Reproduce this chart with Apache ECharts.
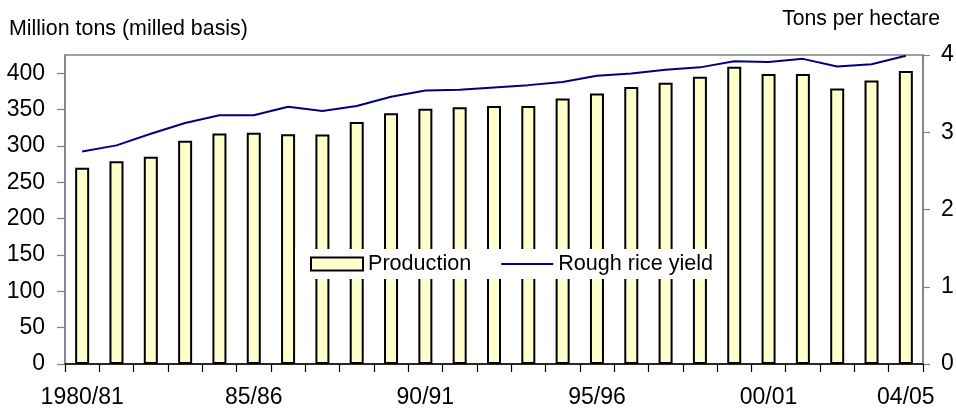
<!DOCTYPE html>
<html><head><meta charset="utf-8">
<script src="https://cdn.jsdelivr.net/npm/echarts@6/dist/echarts.min.js"></script>
<style>html,body{margin:0;padding:0;background:#fff}#c{width:956px;height:408px}</style>
</head><body><div id="c"></div>
<script>
const categories = ["1980/81","81/82","82/83","83/84","84/85","85/86","86/87","87/88","88/89","89/90","90/91","91/92","92/93","93/94","94/95","95/96","96/97","97/98","98/99","99/00","00/01","01/02","02/03","03/04","04/05"];
const shownLabels = ["1980/81","85/86","90/91","95/96","00/01","04/05"];
const production = [270, 279, 285, 307, 317, 318, 316, 315.5, 333, 345, 351, 353, 355, 355, 365, 372, 381, 387, 395, 409, 399, 399, 379, 390, 403];
const yieldTpH = [2.75, 2.83, 2.98, 3.12, 3.22, 3.22, 3.33, 3.275, 3.34, 3.46, 3.54, 3.55, 3.58, 3.61, 3.65, 3.73, 3.76, 3.81, 3.84, 3.92, 3.91, 3.95, 3.85, 3.88, 3.99];
const leftTitle = "Million tons (milled basis)";
const rightTitle = "Tons per hectare";

const FONT = "'Liberation Sans', Arial, sans-serif";
const chart = echarts.init(document.getElementById('c'), null, {renderer: 'canvas'});
chart.setOption({
  animation: false,
  backgroundColor: '#fff',
  textStyle: {fontFamily: FONT},
  grid: {left: 65, right: 33, top: 55, bottom: 44, containLabel: false, outerBoundsMode: 'none',
         show: true, borderColor: '#808080', borderWidth: 1.5, backgroundColor: 'transparent'},
  graphic: [
    {type: 'text', left: 9, top: 19, style: {text: leftTitle, font: "21.4px " + FONT, fill: '#000'}},
    {type: 'text', right: 16, top: 9, style: {text: rightTitle, font: "21.2px " + FONT, fill: '#000'}}
  ],
  legend: {
    left: 295, top: 249,
    backgroundColor: '#fff',
    padding: [4, 3, 4, 15],
    itemGap: 29,
    itemWidth: 52, itemHeight: 13,
    textStyle: {fontSize: 21.6, fontFamily: FONT, color: '#000'},
    data: [
      {name: 'Production', icon: 'rect'},
      {name: 'Rough rice yield', itemStyle: {opacity: 0}}
    ]
  },
  xAxis: {
    type: 'category',
    data: categories,
    boundaryGap: true,
    axisLine: {lineStyle: {color: '#000', width: 1.5}},
    axisTick: {show: true, interval: 0, length: 8, lineStyle: {color: '#000', width: 1.2}},
    axisLabel: {
      interval: (i, v) => shownLabels.indexOf(v) >= 0,
      fontSize: 23, fontFamily: FONT, color: '#000', margin: 22
    },
    splitLine: {show: false}
  },
  yAxis: [
    {
      type: 'value', min: 0, max: 425, interval: 50,
      axisLine: {show: true, lineStyle: {color: '#808080', width: 1.5}},
      axisTick: {show: true, length: 8, lineStyle: {color: '#808080', width: 1.2}},
      axisLabel: {fontSize: 23, fontFamily: FONT, color: '#000', margin: 20, showMaxLabel: false},
      splitLine: {show: false}
    },
    {
      type: 'value', min: 0, max: 4, interval: 1,
      position: 'right',
      axisLine: {show: true, lineStyle: {color: '#808080', width: 1.5}},
      axisTick: {show: true, length: 7, lineStyle: {color: '#808080', width: 1.2}},
      axisLabel: {fontSize: 23, fontFamily: FONT, color: '#000', margin: 18},
      splitLine: {show: false}
    }
  ],
  series: [
    {
      name: 'Production', type: 'bar', yAxisIndex: 0, data: production,
      barWidth: 14,
      itemStyle: {color: '#FFFFCC', borderColor: '#000', borderWidth: 2}
    },
    {
      name: 'Rough rice yield', type: 'line', yAxisIndex: 1, data: yieldTpH,
      symbol: 'none', smooth: false,
      lineStyle: {color: '#000080', width: 2},
      itemStyle: {color: '#000080'}
    }
  ]
});
</script></body></html>
